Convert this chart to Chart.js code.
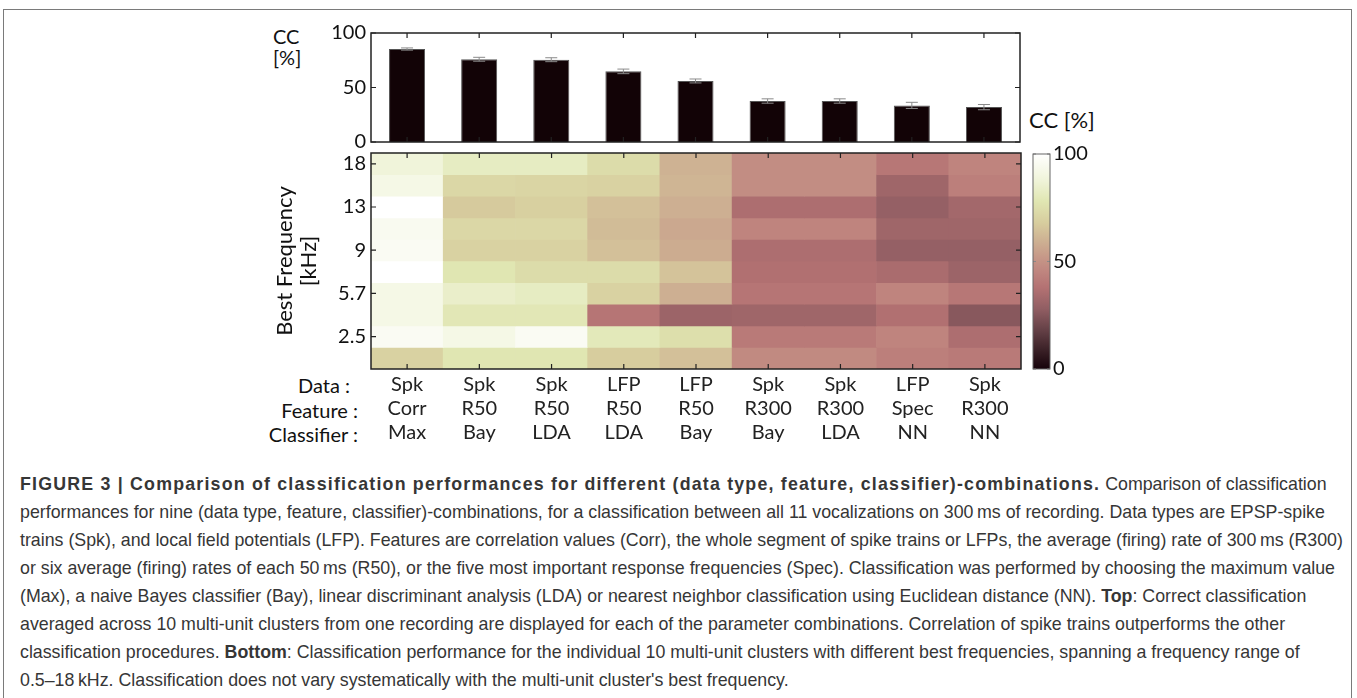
<!DOCTYPE html>
<html>
<head>
<meta charset="utf-8">
<script src="https://cdn.jsdelivr.net/npm/chart.js@4.4.1/dist/chart.umd.min.js"></script>
<style>
  body { margin: 0; background: #fff; }
  #fig { position: relative; width: 1357px; height: 698px; overflow: hidden; font-family: Lato, "Open Sans", sans-serif; color: #111; }
  #frame { position: absolute; left: 3px; top: 9px; width: 1347px; height: 720px; border: 1.5px solid #7a7a7a; }
  canvas { position: absolute; }
  .lbl { position: absolute; font-size: 20px; line-height: 24px; white-space: nowrap; }
  .rowlbl { position: absolute; font-size: 20px; line-height: 24px; white-space: nowrap; text-align: right; width: 120px; }
  #caption { position: absolute; left: 20px; top: 470px; font-family: "Liberation Sans", Arial, sans-serif; font-size: 17.8px; line-height: 28px; color: #363636; white-space: nowrap; }
  #caption .head { letter-spacing: 1.2px; }
</style>
</head>
<body>
<div id="fig">
  <div id="frame"></div>

  <div class="lbl" style="left:273px; top:24px;">CC</div>
  <div class="lbl" style="left:273px; top:45px;">[%]</div>
  <div class="lbl" style="left:1029px; top:108px; font-size:22px;">CC [%]</div>

  <div class="rowlbl" style="left:230px; top:373px;">Data :</div>
  <div class="rowlbl" style="left:238px; top:398px;">Feature :</div>
  <div class="rowlbl" style="left:238px; top:422px;">Classifier :</div>

  <canvas id="barChart" width="760" height="149" style="left:280px; top:13px;"></canvas>
  <canvas id="heatChart" width="762" height="323" style="left:260px; top:133px;"></canvas>
  <canvas id="cbarChart" width="100" height="255" style="left:1025px; top:134px;"></canvas>

  <div id="caption">
    <div><b class="head">FIGURE 3 | Comparison of classification performances for different (data type, feature, classifier)-combinations.</b> Comparison of classification</div>
    <div>performances for nine (data type, feature, classifier)-combinations, for a classification between all 11 vocalizations on 300&#8201;ms of recording. Data types are EPSP-spike</div>
    <div>trains (Spk), and local field potentials (LFP). Features are correlation values (Corr), the whole segment of spike trains or LFPs, the average (firing) rate of 300&#8201;ms (R300)</div>
    <div>or six average (firing) rates of each 50&#8201;ms (R50), or the five most important response frequencies (Spec). Classification was performed by choosing the maximum value</div>
    <div>(Max), a naive Bayes classifier (Bay), linear discriminant analysis (LDA) or nearest neighbor classification using Euclidean distance (NN). <b>Top</b>: Correct classification</div>
    <div>averaged across 10 multi-unit clusters from one recording are displayed for each of the parameter combinations. Correlation of spike trains outperforms the other</div>
    <div>classification procedures. <b>Bottom</b>: Classification performance for the individual 10 multi-unit clusters with different best frequencies, spanning a frequency range of</div>
    <div>0.5–18&#8201;kHz. Classification does not vary systematically with the multi-unit cluster's best frequency.</div>
  </div>
</div>

<script>
// --- Data ---
const dataTypes   = ['Spk', 'Spk', 'Spk', 'LFP', 'LFP', 'Spk', 'Spk', 'LFP', 'Spk'];
const features    = ['Corr', 'R50', 'R50', 'R50', 'R50', 'R300', 'R300', 'Spec', 'R300'];
const classifiers = ['Max', 'Bay', 'LDA', 'LDA', 'Bay', 'Bay', 'LDA', 'NN', 'NN'];

// mean correct classification (%) and error bar size, top panel
const meanCC = [85.3, 75.9, 75.5, 64.8, 56.0, 37.6, 37.6, 33.6, 32.0];
const errCC  = [1.0, 1.8, 1.8, 2.1, 1.8, 2.0, 2.0, 2.8, 2.4];

// best-frequency rows, top to bottom (only every other row is labelled)
const freqLabels = ['18', '', '13', '', '9', '', '5.7', '', '2.5', ''];

// CC [%] per multi-unit cluster (rows, top to bottom) and combination (columns)
const ccRows = [
  [88, 82, 82, 74, 60, 48, 48, 40, 45],
  [92, 72, 71, 70, 61, 48, 48, 32, 43],
  [100, 67, 69, 64, 59, 36, 36, 29, 33],
  [95, 72, 72, 63, 57, 45, 45, 32, 32],
  [96, 70, 70, 64, 58, 36, 36, 29, 29],
  [100, 78, 74, 74, 65, 37, 37, 35, 31],
  [92, 84, 82, 70, 59, 39, 39, 45, 40],
  [92, 79, 79, 39, 31, 32, 32, 37, 26],
  [96, 92, 96, 80, 75, 41, 41, 45, 36],
  [70, 78, 78, 68, 64, 47, 47, 43, 41]
];

// colour map (value 0..100 -> rgb)
const cmapStops = [
  [0, [22, 2, 10]],
  [8, [55, 30, 36]],
  [18, [100, 64, 70]],
  [28, [145, 94, 99]],
  [38, [180, 114, 115]],
  [46, [192, 135, 128]],
  [52, [198, 152, 136]],
  [60, [206, 178, 147]],
  [68, [215, 205, 158]],
  [78, [224, 230, 178]],
  [88, [240, 244, 218]],
  [100, [255, 255, 255]]
];

function ccColor(v) {
  for (let i = 1; i < cmapStops.length; i++) {
    const [v1, c1] = cmapStops[i];
    const [v0, c0] = cmapStops[i - 1];
    if (v <= v1) {
      const t = (v - v0) / (v1 - v0);
      const c = c0.map((a, k) => Math.round(a + (c1[k] - a) * t));
      return `rgb(${c[0]},${c[1]},${c[2]})`;
    }
  }
  return 'rgb(255,255,255)';
}

Chart.defaults.font.family = 'Lato, "Open Sans", sans-serif';
Chart.defaults.font.size = 20;
Chart.defaults.color = '#111';
Chart.defaults.animation = false;

// --- Plugins ---
// MATLAB-like box with inward tick marks
const boxPlugin = {
  id: 'boxTicks',
  afterDraw(chart, args, opts) {
    const { ctx, chartArea: a } = chart;
    const len = opts.len || 5;
    ctx.save();
    ctx.strokeStyle = opts.tickColor || '#222';
    ctx.lineWidth = 1.2;
    if (opts.xTicks) {
      const xs = chart.scales.x;
      chart.data.labels.forEach((_, i) => {
        const px = xs.getPixelForValue(i);
        ctx.beginPath();
        ctx.moveTo(px, a.top); ctx.lineTo(px, a.top + len);
        ctx.moveTo(px, a.bottom); ctx.lineTo(px, a.bottom - len);
        ctx.stroke();
      });
    }
    const ys = chart.scales.y;
    ys.ticks.forEach(t => {
      const py = ys.getPixelForValue(t.value);
      ctx.beginPath();
      ctx.moveTo(a.left, py); ctx.lineTo(a.left + len, py);
      ctx.moveTo(a.right, py); ctx.lineTo(a.right - len, py);
      ctx.stroke();
    });
    ctx.strokeStyle = opts.color || '#222';
    ctx.lineWidth = opts.width || 1.5;
    ctx.strokeRect(a.left, a.top, a.right - a.left, a.bottom - a.top);
    ctx.restore();
  }
};

// error bars for the top panel
const errorBarPlugin = {
  id: 'errorBars',
  afterDatasetsDraw(chart) {
    const { ctx } = chart;
    const xs = chart.scales.x, ys = chart.scales.y;
    ctx.save();
    ctx.strokeStyle = '#8a8a8a';
    ctx.lineWidth = 1;
    meanCC.forEach((m, i) => {
      const px = xs.getPixelForValue(i);
      const hi = ys.getPixelForValue(m + errCC[i]);
      const lo = ys.getPixelForValue(m - errCC[i]);
      ctx.beginPath();
      ctx.moveTo(px, lo); ctx.lineTo(px, hi);
      ctx.moveTo(px - 6, hi); ctx.lineTo(px + 6, hi);
      ctx.moveTo(px - 6, lo); ctx.lineTo(px + 6, lo);
      ctx.stroke();
    });
    ctx.restore();
  }
};

// colour bar gradient, placed with the colour bar's own y scale
const colorBarPlugin = {
  id: 'colorBar',
  beforeDatasetsDraw(chart) {
    const { ctx, chartArea: a } = chart;
    const ys = chart.scales.y;
    const y0 = ys.getPixelForValue(0), y1 = ys.getPixelForValue(100);
    const g = ctx.createLinearGradient(0, y0, 0, y1);
    cmapStops.forEach(([v]) => g.addColorStop(v / 100, ccColor(v)));
    ctx.save();
    ctx.fillStyle = g;
    ctx.fillRect(a.left, y1, a.right - a.left, y0 - y1);
    ctx.restore();
  }
};

const fixedWidth = w => scale => { scale.width = w; };
const fixedHeight = h => scale => { scale.height = h; };

// --- Top: bar chart ---
new Chart(document.getElementById('barChart'), {
  type: 'bar',
  data: {
    labels: dataTypes.map((d, i) => `${d} ${features[i]} ${classifiers[i]}`),
    datasets: [{
      data: meanCC,
      backgroundColor: '#120306',
      borderColor: '#555',
      borderWidth: 1,
      barPercentage: 0.5,
      categoryPercentage: 1
    }]
  },
  options: {
    responsive: false,
    layout: { padding: { top: 20, bottom: 20, right: 20, left: 0 } },
    plugins: { legend: { display: false }, tooltip: { enabled: false },
      boxTicks: { xTicks: true } },
    scales: {
      x: { display: false },
      y: {
        min: 0, max: 100,
        afterFit: fixedWidth(91),
        ticks: { stepSize: 50, padding: 5 },
        grid: { display: false, drawTicks: false },
        border: { display: false }
      }
    }
  },
  plugins: [errorBarPlugin, boxPlugin]
});

// --- Bottom: heat map, one floating-bar dataset per row ---
const nRows = freqLabels.length;
const heatDatasets = ccRows.map((row, r) => ({
  data: row.map(() => [nRows - 1 - r, nRows - r]),
  backgroundColor: row.map(ccColor),
  borderWidth: 0,
  grouped: false,
  barPercentage: 1,
  categoryPercentage: 1
}));

new Chart(document.getElementById('heatChart'), {
  type: 'bar',
  data: {
    labels: dataTypes.map((d, i) => [d, features[i], classifiers[i]]),
    datasets: heatDatasets
  },
  options: {
    responsive: false,
    layout: { padding: { top: 20, bottom: 0, right: 1, left: 0 } },
    plugins: { legend: { display: false }, tooltip: { enabled: false },
      boxTicks: { xTicks: true } },
    scales: {
      x: {
        afterFit: fixedHeight(87),
        ticks: { padding: 3, color: '#222', font: { size: 20, lineHeight: 1.22 } },
        grid: { display: false, drawTicks: false },
        border: { display: false }
      },
      y: {
        min: 0, max: nRows,
        afterFit: fixedWidth(111),
        afterBuildTicks: scale => {
          scale.ticks = freqLabels
            .map((l, r) => ({ value: nRows - 0.5 - r, label: l }))
            .filter(t => t.label !== '');
        },
        ticks: {
          padding: 5,
          callback: v => freqLabels[Math.round(nRows - 0.5 - v)]
        },
        title: {
          display: true,
          text: ['Best Frequency', '[kHz]'],
          font: { size: 22, lineHeight: 1.1 },
          padding: { top: 13, bottom: 0 },
          color: '#111'
        },
        grid: { display: false, drawTicks: false },
        border: { display: false }
      }
    }
  },
  plugins: [boxPlugin]
});

// --- Colour bar ---
new Chart(document.getElementById('cbarChart'), {
  type: 'bar',
  data: { labels: [''], datasets: [] },
  options: {
    responsive: false,
    layout: { padding: { top: 20, bottom: 20, left: 8, right: 0 } },
    plugins: { legend: { display: false }, tooltip: { enabled: false },
      boxTicks: { xTicks: false, len: 3, tickColor: '#888', color: '#666', width: 1 } },
    scales: {
      x: { display: false },
      y: {
        position: 'right',
        min: 0, max: 100,
        afterFit: fixedWidth(75),
        ticks: { stepSize: 50, padding: 3 },
        grid: { display: false, drawTicks: false },
        border: { display: false }
      }
    }
  },
  plugins: [colorBarPlugin, boxPlugin]
});
</script>
</body>
</html>
